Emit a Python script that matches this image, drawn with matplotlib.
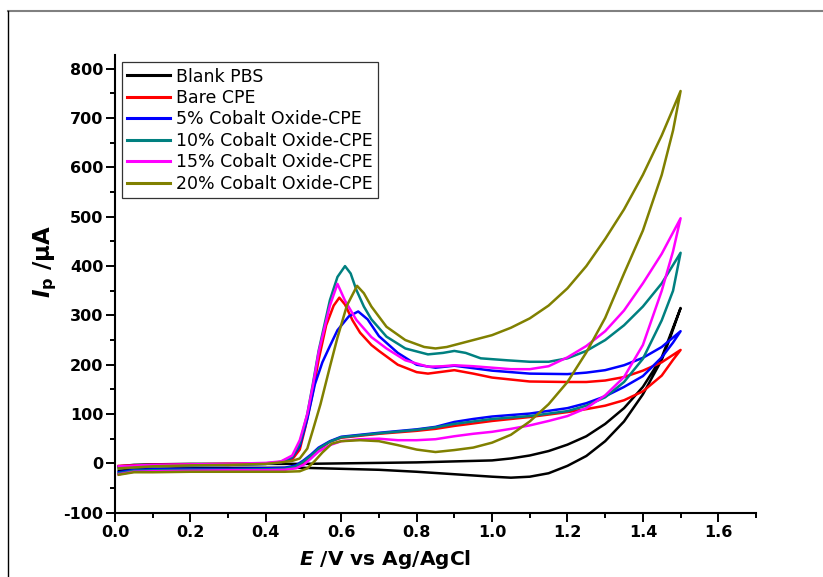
import numpy as np
import matplotlib
matplotlib.use("Agg")
import matplotlib.pyplot as plt
from matplotlib.lines import Line2D
from matplotlib.ticker import MultipleLocator

# ── Data ──────────────────────────────────────────────────────
labels = ["Blank PBS", "Bare CPE", "5% Cobalt Oxide-CPE",
          "10% Cobalt Oxide-CPE", "15% Cobalt Oxide-CPE",
          "20% Cobalt Oxide-CPE"]
colors = ["#000000", "#ff0000", "#0000ff", "#008080", "#ff00ff", "#808000"]

# forward branch (E rising) and return branch (E falling)
blank_fwd_E = [0.01, 0.05, 0.1, 0.2, 0.3, 0.4, 0.5, 0.6, 0.7, 0.8, 0.9, 0.95,
               1.0, 1.05, 1.1, 1.15, 1.2, 1.25, 1.3, 1.35, 1.4, 1.45, 1.5]
blank_fwd_I = [-6, -3, -2, -1, -1, -1, -1, 0, 1, 2, 4, 5,
               6, 10, 16, 25, 38, 55, 80, 112, 155, 215, 315]
blank_rev_E = [1.5, 1.47, 1.45, 1.4, 1.35, 1.3, 1.25, 1.2, 1.15, 1.1, 1.05,
               1.0, 0.9, 0.8, 0.7, 0.6, 0.5, 0.4, 0.3, 0.2, 0.1, 0.05, 0.01]
blank_rev_I = [315, 250, 210, 140, 85, 45, 15, -5, -20, -27, -29,
               -27, -22, -17, -13, -11, -9, -9, -9, -10, -11, -12, -15]

bare_fwd_E = [0.01, 0.1, 0.2, 0.3, 0.4, 0.44, 0.47, 0.49, 0.505, 0.524, 0.54,
              0.56, 0.58, 0.595, 0.61, 0.63, 0.65, 0.68, 0.7, 0.75, 0.8, 0.83,
              0.87, 0.9, 0.95, 1.0, 1.1, 1.2, 1.25, 1.3, 1.35, 1.4, 1.45, 1.5]
bare_fwd_I = [-5, -3, -2, -1, 0, 3, 8, 28, 74, 142, 210,
              280, 320, 336, 322, 290, 265, 240, 228, 200, 185, 182,
              186, 189, 182, 174, 166, 165, 165, 168, 175, 188, 205, 230]
bare_rev_E = [1.5, 1.48, 1.45, 1.4, 1.35, 1.3, 1.25, 1.2, 1.1, 1.0, 0.95, 0.9,
              0.85, 0.8, 0.7, 0.6, 0.57, 0.54, 0.52, 0.5, 0.48, 0.45, 0.4, 0.3,
              0.2, 0.1, 0.05, 0.01]
bare_rev_I = [230, 210, 178, 146, 128, 117, 110, 104, 94, 86, 81, 76,
              70, 66, 60, 52, 44, 28, 14, 2, -8, -12, -13, -13,
              -14, -15, -16, -22]

co5_fwd_E = [0.01, 0.1, 0.2, 0.3, 0.4, 0.44, 0.47, 0.49, 0.51, 0.53, 0.55,
             0.57, 0.59, 0.62, 0.645, 0.67, 0.7, 0.75, 0.8, 0.85, 0.9, 0.95,
             1.0, 1.1, 1.2, 1.25, 1.3, 1.35, 1.4, 1.45, 1.5]
co5_fwd_I = [-8, -5, -4, -3, -1, 2, 12, 35, 90, 160, 205,
             238, 270, 298, 308, 292, 258, 224, 200, 194, 198, 193,
             188, 182, 181, 184, 189, 199, 214, 236, 268]
co5_rev_E = [1.5, 1.48, 1.45, 1.4, 1.35, 1.3, 1.25, 1.2, 1.1, 1.0, 0.95, 0.9,
             0.85, 0.8, 0.7, 0.6, 0.57, 0.54, 0.52, 0.5, 0.48, 0.45, 0.4, 0.3,
             0.2, 0.1, 0.05, 0.01]
co5_rev_I = [268, 245, 215, 177, 155, 136, 122, 112, 101, 95, 90, 84,
             74, 69, 62, 54, 45, 32, 18, 6, -4, -9, -10, -11,
             -11, -12, -13, -18]

co10_fwd_E = [0.01, 0.1, 0.2, 0.3, 0.4, 0.44, 0.47, 0.49, 0.51, 0.525, 0.54,
              0.57, 0.59, 0.61, 0.625, 0.64, 0.66, 0.68, 0.72, 0.77, 0.83,
              0.87, 0.9, 0.93, 0.97, 1.04, 1.1, 1.15, 1.2, 1.25, 1.3, 1.35,
              1.4, 1.45, 1.5]
co10_fwd_I = [-10, -6, -4, -3, -1, 3, 13, 40, 100, 162, 228,
              331, 378, 400, 385, 352, 318, 292, 257, 233, 221,
              224, 228, 224, 213, 209, 206, 206, 213, 228, 250, 280,
              318, 365, 427]
co10_rev_E = [1.5, 1.48, 1.45, 1.4, 1.35, 1.3, 1.25, 1.2, 1.1, 1.0, 0.9, 0.85,
              0.8, 0.7, 0.6, 0.57, 0.54, 0.52, 0.5, 0.48, 0.45, 0.4, 0.3, 0.2,
              0.1, 0.05, 0.01]
co10_rev_I = [427, 350, 290, 212, 165, 134, 117, 106, 96, 90, 80, 73,
              68, 61, 53, 44, 30, 16, 4, -6, -11, -12, -13, -13,
              -14, -15, -20]

co15_fwd_E = [0.01, 0.1, 0.2, 0.3, 0.4, 0.44, 0.47, 0.49, 0.51, 0.525, 0.54,
              0.57, 0.59, 0.61, 0.64, 0.68, 0.72, 0.77, 0.83, 0.87, 0.9, 0.95,
              1.0, 1.05, 1.1, 1.15, 1.2, 1.25, 1.3, 1.35, 1.4, 1.45, 1.5]
co15_fwd_I = [-6, -3, -2, -1, 1, 4, 16, 47, 100, 158, 225,
              320, 364, 330, 291, 256, 233, 209, 196, 197, 199, 197,
              194, 191, 191, 197, 215, 238, 268, 310, 365, 425, 497]
co15_rev_E = [1.5, 1.48, 1.45, 1.4, 1.35, 1.3, 1.25, 1.2, 1.15, 1.1, 1.05, 1.0,
              0.95, 0.9, 0.85, 0.8, 0.75, 0.7, 0.65, 0.6, 0.57, 0.54, 0.52,
              0.5, 0.48, 0.45, 0.4, 0.3, 0.2, 0.1, 0.05, 0.01]
co15_rev_I = [497, 430, 350, 240, 175, 138, 112, 96, 86, 77, 70, 64,
              60, 55, 49, 47, 47, 50, 49, 45, 37, 24, 10,
              -3, -10, -13, -14, -14, -15, -16, -17, -22]

co20_fwd_E = [0.01, 0.1, 0.2, 0.3, 0.4, 0.44, 0.47, 0.49, 0.51, 0.525, 0.545,
              0.57, 0.59, 0.615, 0.642, 0.66, 0.68, 0.72, 0.77, 0.82, 0.85,
              0.88, 0.91, 0.95, 1.0, 1.05, 1.1, 1.15, 1.2, 1.25, 1.3, 1.35,
              1.4, 1.45, 1.5]
co20_fwd_I = [-10, -6, -4, -3, -1, 2, 5, 10, 30, 68, 120,
              196, 255, 320, 360, 345, 318, 277, 250, 236, 233,
              236, 242, 250, 260, 275, 294, 320, 355, 400, 455, 515,
              585, 665, 755]
co20_rev_E = [1.5, 1.48, 1.45, 1.4, 1.35, 1.3, 1.25, 1.2, 1.15, 1.1, 1.05, 1.0,
              0.95, 0.9, 0.85, 0.8, 0.75, 0.7, 0.65, 0.6, 0.575, 0.55, 0.53,
              0.51, 0.49, 0.45, 0.4, 0.3, 0.2, 0.1, 0.05, 0.01]
co20_rev_I = [755, 675, 585, 472, 385, 295, 225, 165, 120, 85, 58, 42,
              32, 27, 23, 28, 37, 45, 47, 45, 40, 22, 5,
              -10, -16, -17, -17, -17, -17, -18, -18, -23]

series = [
    (blank_fwd_E, blank_fwd_I, blank_rev_E, blank_rev_I),
    (bare_fwd_E, bare_fwd_I, bare_rev_E, bare_rev_I),
    (co5_fwd_E, co5_fwd_I, co5_rev_E, co5_rev_I),
    (co10_fwd_E, co10_fwd_I, co10_rev_E, co10_rev_I),
    (co15_fwd_E, co15_fwd_I, co15_rev_E, co15_rev_I),
    (co20_fwd_E, co20_fwd_I, co20_rev_E, co20_rev_I),
]

# ── Style ─────────────────────────────────────────────────────
plt.rcParams['font.family'] = 'DejaVu Sans'
plt.rcParams['mathtext.fontset'] = 'custom'
plt.rcParams['mathtext.it'] = 'DejaVu Sans:italic:bold'
plt.rcParams['mathtext.rm'] = 'DejaVu Sans:bold'
plt.rcParams['mathtext.bf'] = 'DejaVu Sans:bold'

fig = plt.figure(figsize=(8.23, 5.77), dpi=100)
ax = fig.add_axes([115/823, 1 - 512.7/577, 641/823, 457.7/577])

for (fE, fI, rE, rI), lab, col in zip(series, labels, colors):
    E = np.concatenate([fE, rE])
    I = np.concatenate([fI, rI])
    ax.plot(E, I, color=col, lw=1.8, label=lab, solid_joinstyle='round')

ax.set_xlim(0, 1.7)
ax.set_ylim(-100, 828)
ax.xaxis.set_major_locator(MultipleLocator(0.2))
ax.xaxis.set_minor_locator(MultipleLocator(0.1))
ax.yaxis.set_major_locator(MultipleLocator(100))
ax.yaxis.set_minor_locator(MultipleLocator(50))
ax.xaxis.set_major_formatter(plt.FuncFormatter(lambda v, p: f"{v:.1f}"))
ax.yaxis.set_major_formatter(plt.FuncFormatter(lambda v, p: f"{int(round(v))}"))

for s in ['top', 'right']:
    ax.spines[s].set_visible(False)
for s in ['left', 'bottom']:
    ax.spines[s].set_linewidth(1.5)

ax.tick_params(which='major', direction='out', length=6.5, width=1.4,
               pad=2)
ax.tick_params(which='minor', direction='out', length=3.6, width=1.4)
for t in ax.get_xticklabels() + ax.get_yticklabels():
    t.set_fontweight('bold')
    t.set_fontsize(11.5)

ax.set_xlabel(r'$E$ /V vs Ag/AgCl', fontsize=14.5, fontweight='bold')
ax.xaxis.set_label_coords(0.421, -0.078)
ax.set_ylabel(r'$I_{\mathbf{p}}$ /μA', fontsize=16.5, fontweight='bold')
ax.yaxis.set_label_coords(-0.088, 0.55)

leg = ax.legend(loc='upper left', bbox_to_anchor=(0.0105, 0.984),
                borderaxespad=0, fontsize=12.5, frameon=True, fancybox=False,
                handlelength=2.5, handletextpad=0.35, labelspacing=0.2,
                borderpad=0.3)
leg.get_frame().set_edgecolor('black')
leg.get_frame().set_linewidth(0.9)
for h in leg.get_lines():
    h.set_linewidth(2.2)

# outer frame of the original figure (partly cropped)
fig.add_artist(Line2D([8/823, 1], [1 - 11/577, 1 - 11/577],
                      color='#808080', lw=1.5))
fig.add_artist(Line2D([8/823, 8/823], [0, 1 - 11/577], color='black', lw=1))

fig.savefig("out.png", dpi=100)
